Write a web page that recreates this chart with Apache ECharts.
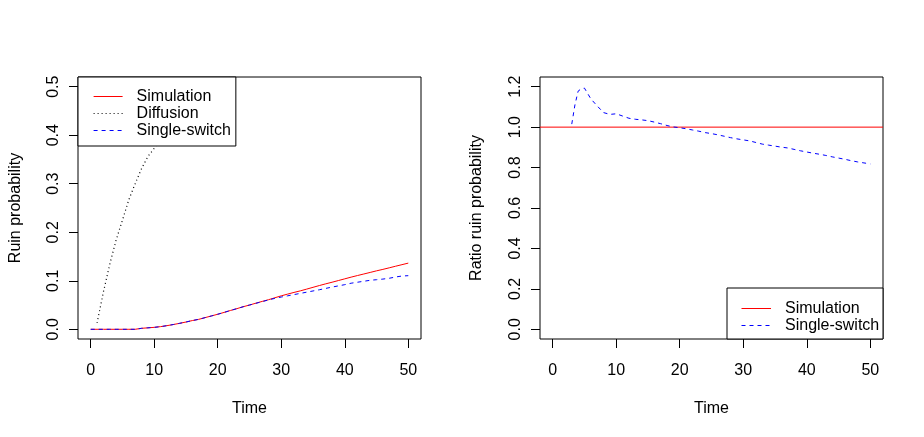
<!DOCTYPE html>
<html>
<head>
<meta charset="utf-8">
<script src="https://cdn.jsdelivr.net/npm/echarts@6/dist/echarts.min.js"></script>
<style>
html, body { margin: 0; padding: 0; background: #fff; }
#chart { width: 924px; height: 437px; }
</style>
</head>
<body>
<div id="chart"></div>
<script>
// ---- Data ----
var timeGrid = [0,1,2,3,4,5,6,7,8,9,10,11,12,13,14,15,16,17,18,19,20,21,22,23,24,25,26,27,28,29,30,31,32,33,34,35,36,37,38,39,40,41,42,43,44,45,46,47,48,49,50];
var simulation = [0,0,0,0,0,0,0,0,0.002,0.003,0.004,0.0055,0.0075,0.0098,0.0123,0.015,0.018,0.0205,0.024,0.0275,0.031,0.0348,0.0388,0.0425,0.0465,0.050,0.0538,0.0575,0.061,0.065,0.069,0.0725,0.076,0.0792,0.0828,0.0865,0.0902,0.0937,0.097,0.1005,0.104,0.1075,0.1108,0.114,0.1172,0.1205,0.1235,0.1267,0.130,0.1332,0.1364];
var singleSwitch = [0,0,0,0,0,0,0,0,0.002,0.003,0.004,0.0055,0.0075,0.0098,0.0123,0.015,0.018,0.0205,0.024,0.0275,0.031,0.0348,0.0388,0.0425,0.0465,0.050,0.0535,0.057,0.0605,0.0638,0.0665,0.069,0.0715,0.074,0.0765,0.079,0.0815,0.0843,0.087,0.0895,0.092,0.095,0.097,0.099,0.101,0.1022,0.1035,0.1052,0.1078,0.1098,0.1105];
var diffusionTime = [1,2,3,4,5,6,7,8,9,10,11,12,13,14,15,16,17,18,19,20,21,22,23,24,26,28,30,35,40,45,50];
var diffusion = [0.013,0.077,0.134,0.184,0.225,0.267,0.300,0.331,0.356,0.373,0.390,0.405,0.420,0.433,0.446,0.458,0.470,0.481,0.492,0.502,0.512,0.521,0.530,0.538,0.553,0.567,0.580,0.610,0.635,0.660,0.680];

var ratioTime = [3,3.5,4,4.5,5,6,7,8,9,10,11,12,13,14,15,16,17,18,19,20,21,22,23,24,25,26,27,28,29,30,31,32,33,34,35,36,37,38,39,40,41,42,43,44,45,46,47,48,49,50];
var ratioSingleSwitch = [1.015,1.11,1.178,1.19,1.193,1.14,1.105,1.072,1.063,1.066,1.055,1.044,1.039,1.036,1.032,1.025,1.017,1.008,1.001,0.997,0.992,0.986,0.980,0.973,0.968,0.962,0.955,0.948,0.942,0.937,0.932,0.924,0.916,0.911,0.906,0.901,0.897,0.890,0.883,0.877,0.871,0.866,0.860,0.853,0.847,0.841,0.834,0.828,0.823,0.818];
var ratioRefTime = [-2, 52];
var ratioRefValue = [1, 1];

var xTicks = [0,10,20,30,40,50];
var yTicksLeft = [0,0.1,0.2,0.3,0.4,0.5];
var yTicksRight = [0,0.2,0.4,0.6,0.8,1.0,1.2];

var legendLeftNames = ['Simulation','Diffusion','Single-switch'];
var legendRightNames = ['Simulation','Single-switch'];

function pairs(xs, ys) { return xs.map(function (x, i) { return [x, ys[i]]; }); }

var FONT = '"Liberation Sans", Arial, sans-serif';
var RIGHT_PREFIX = 'ratio:';
var CLEAR = 'rgba(255,255,255,0)';

function styleOf(name) {
  if (name === 'Simulation') return { color: '#ff0000', type: 'solid', dash: null, width: 1 };
  if (name === 'Diffusion') return { color: '#000000', type: [1, 3], dash: [1, 3], width: 1.2 };
  return { color: '#0000ff', type: [4, 4], dash: [4, 4], width: 1 };
}
function legendItems(names) {
  return names.map(function (n) {
    var s = styleOf(n);
    return {
      name: n,
      itemStyle: { color: CLEAR, borderColor: CLEAR, borderWidth: 0 },
      lineStyle: { color: s.color, type: s.type, width: s.width }
    };
  });
}
function txt() { return { color: '#000', fontFamily: FONT, fontSize: 16 }; }

// right-hand legend drawn as a graphic box (same look as the left legend)
function rightLegendGraphic(names) {
  var rowH = 17.3, padTop = 11, padLeft = 14.5, lineW = 29.5, textGap = 14;
  var children = [{
    type: 'rect', z: 100,
    shape: { x: 0, y: 0, width: 156, height: 51 },
    style: { fill: '#fff', stroke: '#000', lineWidth: 1 }
  }];
  names.forEach(function (n, i) {
    var s = styleOf(n);
    var cy = Math.round(padTop + rowH * i + rowH / 2) + 0.5;
    children.push({
      type: 'line', z: 101,
      shape: { x1: padLeft, y1: cy, x2: padLeft + lineW, y2: cy },
      style: { stroke: s.color, lineWidth: s.width, lineDash: s.dash }
    });
    children.push({
      type: 'text', z: 101, x: padLeft + lineW + textGap, y: cy,
      style: { text: n, fill: '#000', fontFamily: FONT, fontSize: 16, verticalAlign: 'middle', align: 'left' }
    });
  });
  return { type: 'group', left: 726.5, top: 287.5, z: 100, children: children };
}

function xAxisDef(gi) {
  return {
    type: 'value', gridIndex: gi, min: -2, max: 52,
    name: 'Time', nameLocation: 'middle', nameGap: 62,
    nameTextStyle: txt(),
    axisLine: { show: false, onZero: false },
    splitLine: { show: false },
    axisTick: { show: true, customValues: xTicks, length: 9, inside: false, lineStyle: { color: '#000', width: 1 } },
    axisLabel: { show: true, customValues: xTicks, margin: 24, color: '#000', fontFamily: FONT, fontSize: 16 }
  };
}
function yAxisDef(gi, mn, mx, ticks, name, gap) {
  return {
    type: 'value', gridIndex: gi, min: mn, max: mx,
    name: name, nameLocation: 'middle', nameGap: gap, nameRotate: 90,
    nameTextStyle: txt(),
    axisLine: { show: false, onZero: false },
    splitLine: { show: false },
    axisTick: { show: true, customValues: ticks, length: 9, inside: false, lineStyle: { color: '#000', width: 1 } },
    axisLabel: { show: true, customValues: ticks, rotate: 90, margin: 16, color: '#000', fontFamily: FONT, fontSize: 16,
      formatter: function (v) { return v.toFixed(1); } }
  };
}
function seriesDef(name, gi, data, z) {
  var s = styleOf(name);
  return {
    name: (gi === 1 ? RIGHT_PREFIX : '') + name, type: 'line', xAxisIndex: gi, yAxisIndex: gi,
    symbol: 'none', clip: true, z: z, data: data,
    itemStyle: { color: s.color },
    lineStyle: { color: s.color, width: s.width, type: s.type }
  };
}

var chart = echarts.init(document.getElementById('chart'), null, { renderer: 'canvas' });
chart.setOption({
  animation: false,
  backgroundColor: '#fff',
  textStyle: { fontFamily: FONT },
  grid: [
    { left: 78, top: 77, width: 343, height: 262, show: true, borderColor: '#000', borderWidth: 1, backgroundColor: 'transparent' },
    { left: 540, top: 77, width: 343, height: 262, show: true, borderColor: '#000', borderWidth: 1, backgroundColor: 'transparent' }
  ],
  xAxis: [xAxisDef(0), xAxisDef(1)],
  yAxis: [
    yAxisDef(0, -0.02, 0.52, yTicksLeft, 'Ruin probability', 54),
    yAxisDef(1, -0.048, 1.248, yTicksRight, 'Ratio ruin probability', 55)
  ],
  legend: {
    data: legendItems(legendLeftNames), left: 78, top: 77, padding: [11, 5, 7, 15],
    orient: 'vertical', itemWidth: 29, itemHeight: 17, itemGap: 0,
    borderColor: '#000', borderWidth: 1, borderRadius: 0, backgroundColor: '#fff',
    textStyle: { color: '#000', fontFamily: FONT, fontSize: 16, lineHeight: 17, padding: [0, 0, 0, 9] },
    selectedMode: false
  },
  graphic: { elements: [rightLegendGraphic(legendRightNames)] },
  series: [
    seriesDef('Simulation', 0, pairs(timeGrid, simulation), 2),
    seriesDef('Diffusion', 0, pairs(diffusionTime, diffusion), 2),
    seriesDef('Single-switch', 0, pairs(timeGrid, singleSwitch), 3),
    seriesDef('Simulation', 1, pairs(ratioRefTime, ratioRefValue), 2),
    seriesDef('Single-switch', 1, pairs(ratioTime, ratioSingleSwitch), 3)
  ]
});
</script>
</body>
</html>
